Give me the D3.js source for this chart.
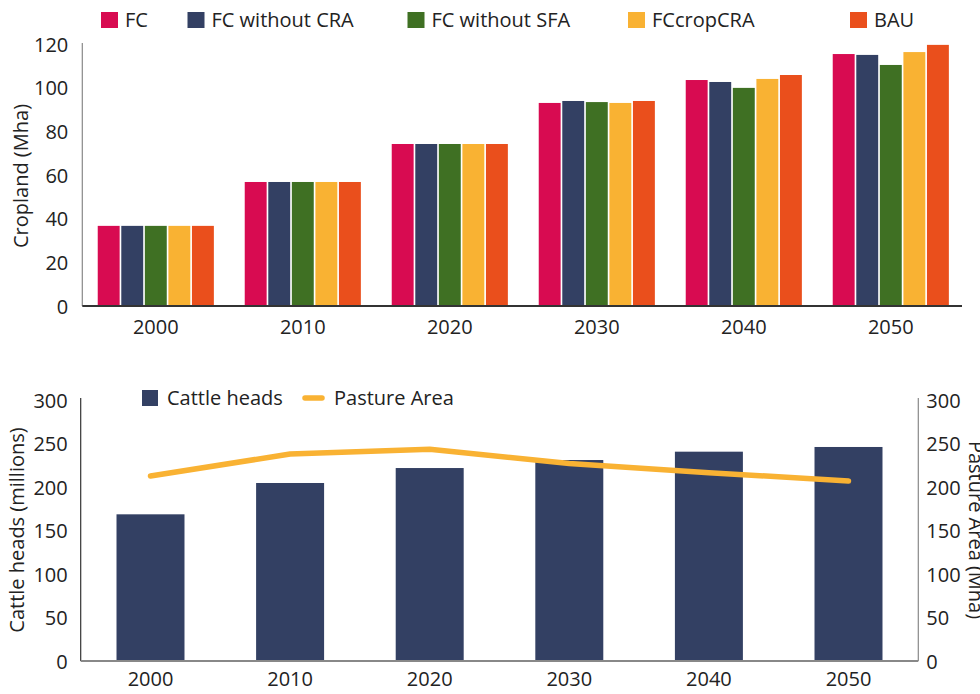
<!DOCTYPE html>
<html><head><meta charset="utf-8">
<script src="https://cdn.jsdelivr.net/npm/d3@7"></script>
<style>
html,body{margin:0;padding:0;background:#fff;}
svg text{font-family:"Open Sans",sans-serif;fill:#222;}
</style></head>
<body><svg id="c" width="980" height="694"></svg>
<script>
// ---- data ----
const years = ["2000","2010","2020","2030","2040","2050"];
const seriesNames = ["FC","FC without CRA","FC without SFA","FCcropCRA","BAU"];
const seriesColors = ["#D80B51","#334063","#3F7023","#F9B233","#EA4F1C"];
const fc        = [36.7, 56.8, 74.2, 93.0, 103.5, 115.4];
const fcNoCRA   = [36.7, 56.8, 74.2, 93.9, 102.6, 115.0];
const fcNoSFA   = [36.7, 56.8, 74.2, 93.4, 99.9, 110.4];
const fcCropCRA = [36.7, 56.8, 74.2, 93.0, 104.0, 116.3];
const bau       = [36.7, 56.8, 74.2, 93.9, 105.8, 119.6];
const cropTicks = [0,20,40,60,80,100,120];
const cattleHeads = [168.6, 204.6, 221.8, 231.0, 240.6, 246.0];
const pastureArea = [212.6, 237.9, 243.3, 227.0, 216.5, 206.9];
const bottomTicks = [0,50,100,150,200,250,300];

const svg = d3.select("#c");
const fs = 20;

// ---------- TOP CHART ----------
const seriesVals = [fc, fcNoCRA, fcNoSFA, fcCropCRA, bau];
const tX0 = d3.scaleBand().domain(years).range([82.3, 964.3]).paddingInner(0.21).paddingOuter(0.105);
const tX1 = d3.scaleBand().domain(seriesNames).range([0, tX0.bandwidth()]).paddingInner(0.07);
const tY = d3.scaleLinear().domain([0,120]).range([306,44]);

const topG = svg.append("g");
years.forEach((yr, i) => {
  const g = topG.append("g").attr("transform", `translate(${tX0(yr)},0)`);
  g.selectAll("rect").data(seriesNames).join("rect")
    .attr("x", s => tX1(s))
    .attr("width", tX1.bandwidth())
    .attr("y", (s, j) => tY(seriesVals[j][i]))
    .attr("height", (s, j) => tY(0) - tY(seriesVals[j][i]))
    .attr("fill", (s, j) => seriesColors[j]);
});
// y axis
const tyAxis = topG.append("g").attr("transform","translate(82.3,0)")
  .call(d3.axisLeft(tY).tickValues(cropTicks).tickSize(0).tickPadding(14));
tyAxis.select(".domain").attr("stroke","#888").attr("stroke-width",1.2).attr("d","M0,43V306");
tyAxis.selectAll("text").attr("font-size",fs).attr("fill","#222").attr("dy","0.35em");
// x axis
const txAxis = topG.append("g").attr("transform","translate(0,306)")
  .call(d3.axisBottom(tX0).tickSize(0).tickPadding(14));
txAxis.select(".domain").attr("stroke","#333").attr("stroke-width",2).attr("d","M82.3,0H962");
txAxis.selectAll("text").attr("font-size",fs).attr("fill","#222");
// title
topG.append("text").attr("transform","translate(28,176) rotate(-90)")
  .attr("text-anchor","middle").attr("font-size",fs).text("Cropland (Mha)");
// legend
const legX = [101, 187.5, 407.5, 628, 850];
const leg = topG.append("g");
seriesNames.forEach((s, j) => {
  leg.append("rect").attr("x", legX[j]).attr("y", 12).attr("width", 17).attr("height", 16).attr("fill", seriesColors[j]);
  leg.append("text").attr("x", legX[j] + 24).attr("y", 20).attr("dy","0.35em").attr("font-size", fs).text(s);
});

// ---------- BOTTOM CHART ----------
const bX = d3.scaleBand().domain(years).range([80.7, 918.3]).paddingInner(0.513).paddingOuter(0.2565);
const bY = d3.scaleLinear().domain([0,300]).range([661,400]);
const bY2 = d3.scaleLinear().domain([0,300]).range([661,400]);
const bot = svg.append("g");
bot.selectAll("rect.cattle").data(years).join("rect").attr("class","cattle")
  .attr("x", d => bX(d)).attr("width", bX.bandwidth())
  .attr("y", (d,i) => bY(cattleHeads[i]))
  .attr("height", (d,i) => bY(0) - bY(cattleHeads[i]))
  .attr("fill", "#334063");
const line = d3.line().x((d,i) => bX(years[i]) + bX.bandwidth()/2).y(d => bY2(d));
bot.append("path").datum(pastureArea).attr("d", line)
  .attr("fill","none").attr("stroke","#F9B233").attr("stroke-width",5.5)
  .attr("stroke-linecap","round").attr("stroke-linejoin","round");
// axes
const byAxis = bot.append("g").attr("transform","translate(80.7,0)")
  .call(d3.axisLeft(bY).tickValues(bottomTicks).tickSize(0).tickPadding(13));
byAxis.select(".domain").attr("stroke","#333").attr("stroke-width",1.2).attr("d","M0,398V661");
byAxis.selectAll("text").attr("font-size",fs).attr("fill","#222").attr("dy","0.35em");
const by2Axis = bot.append("g").attr("transform","translate(918.3,0)")
  .call(d3.axisRight(bY2).tickValues(bottomTicks).tickSize(0).tickPadding(8));
by2Axis.select(".domain").attr("stroke","#888").attr("stroke-width",1.2).attr("d","M0,398V661");
by2Axis.selectAll("text").attr("font-size",fs).attr("fill","#222").attr("dy","0.35em");
const bxAxis = bot.append("g").attr("transform","translate(0,661)")
  .call(d3.axisBottom(bX).tickSize(0).tickPadding(11));
bxAxis.select(".domain").attr("stroke","#888").attr("stroke-width",2).attr("d","M80.7,0H918.3");
bxAxis.selectAll("text").attr("font-size",fs).attr("fill","#222");
// titles
bot.append("text").attr("transform","translate(24,530) rotate(-90)")
  .attr("text-anchor","middle").attr("font-size",fs).text("Cattle heads (millions)");
bot.append("text").attr("transform","translate(969,530) rotate(90)")
  .attr("text-anchor","middle").attr("font-size",fs).text("Pasture Area (Mha)");
// legend
bot.append("rect").attr("x",142).attr("y",390).attr("width",16).attr("height",16).attr("fill","#334063");
bot.append("text").attr("x",167).attr("y",398).attr("dy","0.35em").attr("font-size",fs).text("Cattle heads");
bot.append("line").attr("x1",305).attr("x2",322).attr("y1",398).attr("y2",398)
  .attr("stroke","#F9B233").attr("stroke-width",5.5).attr("stroke-linecap","round");
bot.append("text").attr("x",334).attr("y",398).attr("dy","0.35em").attr("font-size",fs).text("Pasture Area");
</script></body></html>
